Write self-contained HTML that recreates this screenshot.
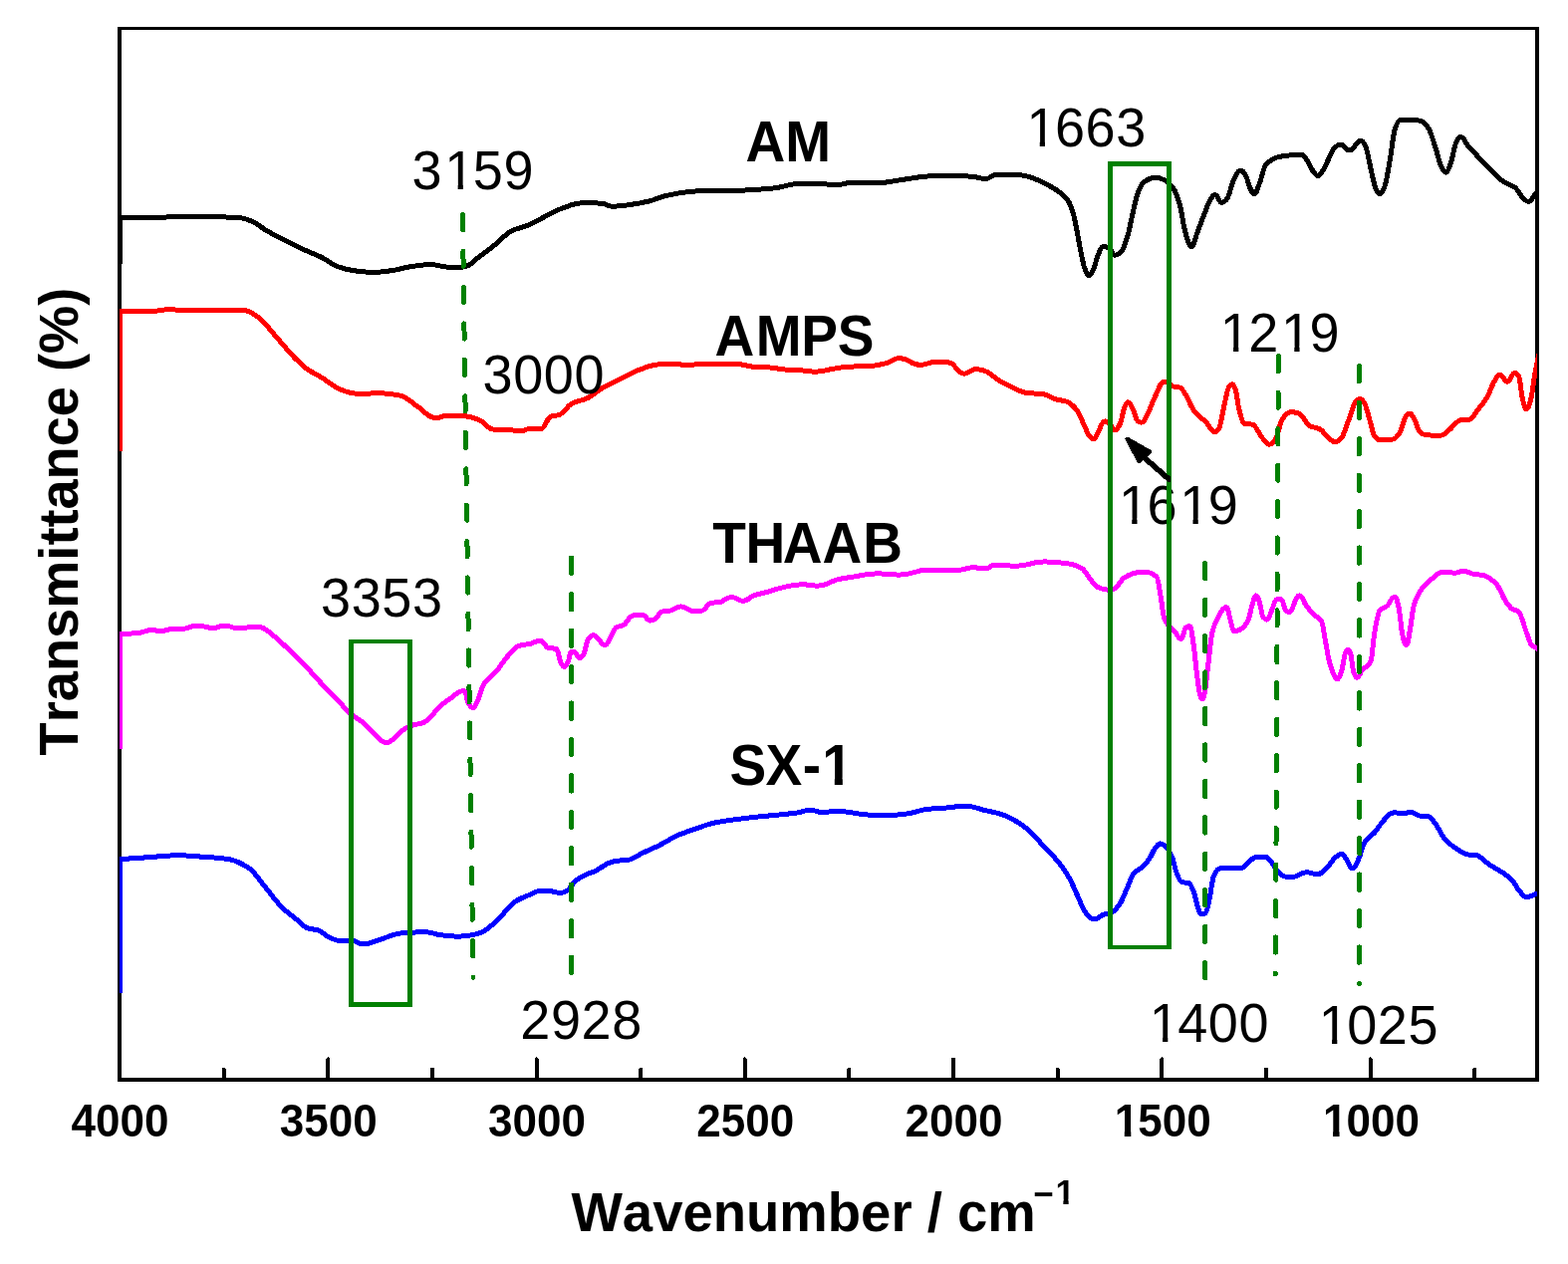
<!DOCTYPE html>
<html lang="en"><head><meta charset="utf-8"><title>FTIR spectra</title>
<style>
html,body{margin:0;padding:0;background:#fff;}
body{width:1574px;height:1269px;overflow:hidden;}
svg{display:block;}
text{font-family:"Liberation Sans",sans-serif;fill:#000;font-kerning:none;}
</style></head><body>
<svg width="1574" height="1269" viewBox="0 0 1574 1269" shape-rendering="crispEdges">
<defs><clipPath id="plot"><rect x="120" y="0" width="1423" height="1269"/></clipPath><clipPath id="k1"><path d="M0 0H1574V1269H0ZM449.43 184.74H459.64V191.70H449.43ZM464.92 184.74H474.71V191.70H464.92Z" clip-rule="evenodd"/></clipPath><clipPath id="k2"><path d="M0 0H1574V1269H0ZM1033.54 141.94H1043.75V148.90H1033.54ZM1049.02 141.94H1058.82V148.90H1049.02Z" clip-rule="evenodd"/></clipPath><clipPath id="k3"><path d="M0 0H1574V1269H0ZM1227.84 347.34H1238.05V354.30H1227.84ZM1243.32 347.34H1253.12V354.30H1243.32ZM1289.06 347.34H1299.28V354.30H1289.06ZM1304.55 347.34H1314.34V354.30H1304.55Z" clip-rule="evenodd"/></clipPath><clipPath id="k4"><path d="M0 0H1574V1269H0ZM1126.04 520.34H1136.25V527.30H1126.04ZM1141.52 520.34H1151.32V527.30H1141.52ZM1187.26 520.34H1197.48V527.30H1187.26ZM1202.75 520.34H1212.54V527.30H1202.75Z" clip-rule="evenodd"/></clipPath><clipPath id="k5"><path d="M0 0H1574V1269H0ZM1156.84 1040.94H1167.05V1047.90H1156.84ZM1172.32 1040.94H1182.12V1047.90H1172.32Z" clip-rule="evenodd"/></clipPath><clipPath id="k6"><path d="M0 0H1574V1269H0ZM1326.84 1042.94H1337.05V1049.90H1326.84ZM1342.32 1042.94H1352.12V1049.90H1342.32Z" clip-rule="evenodd"/></clipPath><clipPath id="k7"><path d="M0 0H1574V1269H0ZM827.66 780.81H837.79V789.50H827.66ZM845.83 780.81H855.26V789.50H845.83Z" clip-rule="evenodd"/></clipPath><clipPath id="k8"><path d="M0 0H1574V1269H0ZM1120.53 1135.28H1128.78V1142.70H1120.53ZM1135.32 1135.28H1143.01V1142.70H1135.32Z" clip-rule="evenodd"/></clipPath><clipPath id="k9"><path d="M0 0H1574V1269H0ZM1329.80 1135.28H1338.05V1142.70H1329.80ZM1344.58 1135.28H1352.27V1142.70H1344.58Z" clip-rule="evenodd"/></clipPath><clipPath id="k10"><path d="M0 0H1574V1269H0ZM1060.64 1203.66H1067.36V1210.10H1060.64ZM1072.66 1203.66H1078.93V1210.10H1072.66Z" clip-rule="evenodd"/></clipPath></defs>
<rect x="0" y="0" width="1574" height="1269" fill="#fff"/>
<path d="M120.0 27.0V1086.0M1543.0 27.0V1086.0" fill="none" stroke="#000" stroke-width="4"/>
<path d="M118.0 28.5H1545.0" fill="none" stroke="#000" stroke-width="3"/>
<path d="M118.0 1084.0H1545.0" fill="none" stroke="#000" stroke-width="4"/>
<line x1="224.63" y1="1073.60" x2="224.63" y2="1084.0" stroke="#000" stroke-width="4" stroke-linecap="round"/>
<line x1="329.26" y1="1063.40" x2="329.26" y2="1084.0" stroke="#000" stroke-width="4" stroke-linecap="round"/>
<line x1="433.90" y1="1073.60" x2="433.90" y2="1084.0" stroke="#000" stroke-width="4" stroke-linecap="round"/>
<line x1="538.53" y1="1063.40" x2="538.53" y2="1084.0" stroke="#000" stroke-width="4" stroke-linecap="round"/>
<line x1="643.16" y1="1073.60" x2="643.16" y2="1084.0" stroke="#000" stroke-width="4" stroke-linecap="round"/>
<line x1="747.79" y1="1063.40" x2="747.79" y2="1084.0" stroke="#000" stroke-width="4" stroke-linecap="round"/>
<line x1="852.43" y1="1073.60" x2="852.43" y2="1084.0" stroke="#000" stroke-width="4" stroke-linecap="round"/>
<line x1="957.06" y1="1063.40" x2="957.06" y2="1084.0" stroke="#000" stroke-width="4" stroke-linecap="round"/>
<line x1="1061.69" y1="1073.60" x2="1061.69" y2="1084.0" stroke="#000" stroke-width="4" stroke-linecap="round"/>
<line x1="1166.32" y1="1063.40" x2="1166.32" y2="1084.0" stroke="#000" stroke-width="4" stroke-linecap="round"/>
<line x1="1270.96" y1="1073.60" x2="1270.96" y2="1084.0" stroke="#000" stroke-width="4" stroke-linecap="round"/>
<line x1="1375.59" y1="1063.40" x2="1375.59" y2="1084.0" stroke="#000" stroke-width="4" stroke-linecap="round"/>
<line x1="1480.22" y1="1073.60" x2="1480.22" y2="1084.0" stroke="#000" stroke-width="4" stroke-linecap="round"/>
<path d="M120.5 265.0L120.5 218.2C135.65 218.20 135.65 218.20 150.80 218.20C176.25 218.20 176.25 217.40 201.70 217.40C222.00 217.40 228.77 217.84 242.30 218.90C245.70 219.17 249.10 220.64 252.50 222.00C257.57 224.03 262.63 228.69 267.70 231.60C279.57 238.42 291.43 244.32 303.30 249.90C310.07 253.08 316.83 255.39 323.60 258.80C328.70 261.37 333.80 265.92 338.90 267.70C343.97 269.47 349.03 270.82 354.10 271.50C360.90 272.41 364.30 273.30 374.50 273.30C383.35 273.30 386.30 272.50 392.20 271.80C399.00 271.00 405.80 268.60 412.60 267.70C419.37 266.81 422.75 265.70 432.90 265.70C441.80 265.70 441.80 268.20 450.70 268.20C457.05 268.20 457.05 268.20 463.40 268.20C472.30 268.20 475.27 261.58 481.20 257.60C486.73 253.89 492.27 249.34 497.80 244.90C502.87 240.84 507.93 234.65 513.00 232.10C518.93 229.11 524.87 228.22 530.80 225.80C541.83 221.31 552.87 212.86 563.90 209.30C571.50 206.85 575.30 203.70 586.70 203.70C595.60 203.70 598.57 203.87 604.50 204.20C607.90 204.39 609.60 207.20 614.70 207.20C623.60 207.20 626.57 206.25 632.50 205.50C639.27 204.65 646.03 203.35 652.80 201.70C657.87 200.47 662.93 197.70 668.00 196.60C678.17 194.39 688.33 192.27 698.50 192.00C710.37 191.69 722.23 191.76 734.10 191.50C748.50 191.18 762.90 190.29 777.30 188.90C784.93 188.17 792.57 184.73 800.20 184.60C807.80 184.47 811.60 184.40 823.00 184.40C830.65 184.40 830.65 185.90 838.30 185.90C847.20 185.90 847.20 183.10 856.10 183.10C866.95 183.10 866.95 183.90 877.80 183.90C890.50 183.90 894.73 181.92 903.20 180.80C910.83 179.79 918.47 178.17 926.10 177.50C932.87 176.90 936.25 176.20 946.40 176.20C961.65 176.20 966.73 176.63 976.90 177.30C981.13 177.58 983.25 179.50 989.60 179.50C994.70 179.50 994.70 175.50 999.80 175.50C1009.95 175.50 1009.95 175.50 1020.10 175.50C1026.45 175.50 1028.57 176.54 1032.80 177.50C1037.90 178.65 1043.00 181.41 1048.10 183.90C1053.17 186.37 1058.23 188.97 1063.30 192.80C1066.27 195.04 1069.23 197.30 1072.20 201.70C1073.90 204.22 1075.60 208.80 1077.30 214.40C1078.57 218.57 1079.83 225.78 1081.10 232.10C1082.37 238.42 1083.63 246.42 1084.90 252.50C1086.17 258.58 1087.43 265.92 1088.70 269.00C1090.23 272.72 1091.00 276.60 1093.30 276.60C1095.45 276.60 1096.17 273.09 1097.60 270.30C1099.30 266.99 1101.00 258.39 1102.70 255.00C1104.40 251.61 1105.25 247.40 1107.80 247.40C1110.95 247.40 1112.00 248.61 1114.10 249.90C1115.80 250.94 1116.65 256.30 1119.20 256.30C1122.40 256.30 1123.47 254.54 1125.60 252.50C1127.70 250.49 1129.80 243.88 1131.90 237.20C1133.60 231.79 1135.30 221.58 1137.00 214.40C1138.70 207.22 1140.40 198.29 1142.10 194.00C1144.20 188.70 1146.30 183.99 1148.40 182.60C1152.23 180.06 1154.15 178.30 1159.90 178.30C1164.35 178.30 1165.83 179.53 1168.80 180.80C1171.77 182.07 1174.73 184.87 1177.70 188.90C1179.80 191.75 1181.90 197.22 1184.00 204.20C1185.70 209.85 1187.40 223.07 1189.10 230.00C1190.40 235.30 1191.70 240.25 1193.00 243.50C1193.53 244.83 1194.07 246.33 1194.60 246.80C1195.07 247.21 1195.30 247.60 1196.00 247.60C1196.70 247.60 1196.93 247.09 1197.40 246.60C1198.60 245.33 1199.80 239.37 1201.00 236.00C1203.40 229.26 1205.80 222.87 1208.20 216.90C1210.73 210.59 1213.27 202.36 1215.80 199.10C1217.07 197.47 1217.70 195.50 1219.60 195.50C1223.05 195.50 1223.05 203.30 1226.50 203.30C1229.00 203.30 1229.83 201.71 1231.50 200.00C1233.90 197.54 1236.30 184.66 1238.70 180.30C1240.97 176.18 1242.10 171.00 1245.50 171.00C1247.85 171.00 1248.63 173.35 1250.20 175.60C1251.90 178.04 1253.60 186.59 1255.30 189.60C1256.57 191.85 1257.20 194.70 1259.10 194.70C1261.65 194.70 1262.50 188.53 1264.20 184.50C1266.33 179.44 1268.47 167.69 1270.60 165.50C1275.67 160.29 1280.73 157.90 1285.80 157.10C1292.57 156.03 1295.95 155.30 1306.10 155.30C1309.30 155.30 1310.37 158.97 1312.50 161.70C1314.63 164.43 1316.77 170.68 1318.90 173.10C1320.17 174.54 1320.80 176.40 1322.70 176.40C1325.85 176.40 1326.90 172.26 1329.00 169.30C1332.40 164.50 1335.80 151.92 1339.20 148.90C1341.30 147.03 1342.35 145.10 1345.50 145.10C1349.95 145.10 1349.95 151.00 1354.40 151.00C1360.15 151.00 1360.15 141.30 1365.90 141.30C1368.45 141.30 1369.30 144.39 1371.00 147.70C1372.67 150.95 1374.33 162.39 1376.00 169.30C1377.70 176.34 1379.40 186.27 1381.10 189.60C1382.37 192.08 1383.00 194.70 1384.90 194.70C1387.45 194.70 1388.30 191.00 1390.00 187.10C1391.70 183.20 1393.40 171.11 1395.10 161.70C1396.80 152.29 1398.50 134.74 1400.20 129.90C1401.90 125.06 1403.60 120.59 1405.30 120.50C1409.53 120.27 1411.65 120.20 1418.00 120.20C1423.05 120.20 1424.73 121.04 1428.10 122.30C1430.23 123.10 1432.37 126.33 1434.50 129.90C1436.60 133.42 1438.70 141.42 1440.80 147.70C1442.93 154.07 1445.07 164.42 1447.20 168.00C1448.63 170.40 1449.35 173.10 1451.50 173.10C1453.80 173.10 1454.57 168.01 1456.10 164.20C1458.20 158.98 1460.30 144.39 1462.40 141.30C1463.70 139.39 1464.35 137.50 1466.30 137.50C1469.45 137.50 1470.50 142.69 1472.60 145.10C1478.10 151.42 1483.60 157.30 1489.10 162.90C1495.90 169.83 1502.70 178.10 1509.50 182.50C1513.30 184.96 1517.10 185.48 1520.90 188.30C1523.87 190.51 1526.83 197.62 1529.80 199.80C1531.33 200.92 1532.10 202.30 1534.40 202.30C1537.80 202.30 1538.93 196.93 1541.20 194.70C1542.47 193.45 1543.73 192.43 1545.00 191.30" fill="none" stroke="#000000" stroke-width="5.0" stroke-linejoin="round" stroke-linecap="butt" clip-path="url(#plot)"/>
<path d="M120.5 452.6L120.5 312.4C135.65 312.40 135.65 312.40 150.80 312.40C155.40 312.40 156.93 312.06 160.00 311.80C163.73 311.48 165.60 310.40 171.20 310.40C175.60 310.40 175.60 311.40 180.00 311.40C190.85 311.40 190.85 311.40 201.70 311.40C222.00 311.40 222.00 311.20 242.30 311.20C249.95 311.20 252.50 314.40 257.60 317.30C264.37 321.14 271.13 331.44 277.90 338.90C283.83 345.44 289.77 353.28 295.70 359.20C299.93 363.42 304.17 367.58 308.40 370.60C313.47 374.21 318.53 376.39 323.60 379.50C329.53 383.14 335.47 388.91 341.40 391.00C347.33 393.09 350.30 395.30 359.20 395.30C370.65 395.30 370.65 394.80 382.10 394.80C392.25 394.80 395.63 395.88 402.40 397.30C408.33 398.55 414.27 405.10 420.20 408.80C426.13 412.50 429.10 419.50 438.00 419.50C443.10 419.50 443.10 417.50 448.20 417.50C458.35 417.50 461.73 417.68 468.50 418.00C473.57 418.24 478.63 420.62 483.70 422.90C487.53 424.63 489.45 431.00 495.20 431.00C501.60 431.00 501.60 431.00 508.00 431.00C514.95 431.00 514.95 433.00 521.90 433.00C527.00 433.00 527.00 430.50 532.10 430.50C537.20 430.50 537.20 431.00 542.30 431.00C547.35 431.00 549.03 419.46 552.40 418.30C555.37 417.28 558.33 417.44 561.30 416.50C565.53 415.15 569.77 407.22 574.00 405.10C579.10 402.55 584.20 402.20 589.30 399.90C594.37 397.61 599.43 392.61 604.50 389.70C610.43 386.29 616.37 383.77 622.30 380.80C628.23 377.83 634.17 373.91 640.10 371.90C648.57 369.04 652.80 365.60 665.50 365.60C678.20 365.60 678.20 366.10 690.90 366.10C704.90 366.10 704.90 365.30 718.90 365.30C729.70 365.30 733.30 365.37 740.50 365.50C745.67 365.60 750.83 367.76 756.00 368.20C763.33 368.83 770.67 368.66 778.00 369.40C780.00 369.60 782.00 370.66 784.00 370.80C789.53 371.19 795.07 371.11 800.60 371.40C806.67 371.72 809.70 373.20 818.80 373.20C826.90 373.20 829.60 371.34 835.00 370.50C840.07 369.72 845.13 368.61 850.20 368.30C858.37 367.80 866.53 367.93 874.70 367.40C879.80 367.07 884.90 365.81 890.00 364.50C894.23 363.41 896.35 359.60 902.70 359.60C913.10 359.60 913.10 366.30 923.50 366.30C932.40 366.30 932.40 363.00 941.30 363.00C947.65 363.00 949.77 363.54 954.00 364.30C958.67 365.13 961.00 375.20 968.00 375.20C973.70 375.20 973.70 370.60 979.40 370.60C993.40 370.60 998.07 380.45 1007.40 384.60C1015.87 388.36 1024.33 394.24 1032.80 394.80C1037.03 395.08 1041.27 395.01 1045.50 395.30C1050.60 395.65 1055.70 399.72 1060.80 401.10C1064.20 402.02 1067.60 402.13 1071.00 403.30C1074.37 404.46 1077.73 407.80 1081.10 412.00C1083.63 415.16 1086.17 422.84 1088.70 428.00C1090.40 431.46 1092.10 436.41 1093.80 438.10C1095.07 439.36 1095.70 440.70 1097.60 440.70C1100.15 440.70 1101.00 435.64 1102.70 433.00C1104.80 429.74 1105.85 422.90 1109.00 422.90C1111.55 422.90 1112.40 424.20 1114.10 425.40C1115.80 426.60 1116.65 431.80 1119.20 431.80C1121.75 431.80 1122.60 428.54 1124.30 425.40C1126.00 422.26 1127.70 410.64 1129.40 407.60C1130.40 405.81 1130.90 403.80 1132.40 403.80C1134.70 403.80 1135.47 407.48 1137.00 410.20C1138.70 413.22 1140.40 421.98 1142.10 422.90C1143.37 423.58 1144.00 424.10 1145.90 424.10C1148.45 424.10 1149.30 420.46 1151.00 417.80C1153.97 413.16 1156.93 402.82 1159.90 397.30C1162.87 391.78 1164.35 383.40 1168.80 383.40C1173.25 383.40 1174.73 387.23 1177.70 388.00C1180.13 388.63 1182.57 388.49 1185.00 389.30C1186.40 389.77 1187.80 392.54 1189.20 394.60C1192.60 399.59 1196.00 409.56 1199.40 413.70C1203.20 418.33 1207.00 420.17 1210.80 423.90C1213.77 426.81 1215.25 433.50 1219.70 433.50C1221.65 433.50 1222.30 431.99 1223.60 430.20C1225.27 427.91 1226.93 415.51 1228.60 408.60C1230.30 401.56 1232.00 390.43 1233.70 388.30C1234.80 386.92 1235.35 385.70 1237.00 385.70C1238.55 385.70 1239.07 388.24 1240.10 390.80C1241.37 393.93 1242.63 406.55 1243.90 411.20C1245.60 417.45 1247.30 424.59 1249.00 425.10C1251.97 426.00 1254.93 425.61 1257.90 426.40C1260.87 427.19 1263.83 435.77 1266.80 439.10C1269.33 441.94 1270.60 446.20 1274.40 446.20C1277.55 446.20 1278.60 443.35 1280.70 440.40C1282.83 437.40 1284.97 424.22 1287.10 421.30C1290.07 417.24 1291.55 413.70 1296.00 413.70C1299.80 413.70 1301.07 414.28 1303.60 415.00C1307.40 416.07 1311.20 425.81 1315.00 427.70C1318.40 429.39 1321.80 429.30 1325.20 431.00C1328.17 432.49 1331.13 438.38 1334.10 440.40C1336.23 441.85 1337.30 443.70 1340.50 443.70C1343.65 443.70 1344.70 441.43 1346.80 439.10C1349.33 436.28 1351.87 426.55 1354.40 420.10C1356.53 414.67 1358.67 405.76 1360.80 403.50C1362.23 401.98 1362.95 400.50 1365.10 400.50C1367.40 400.50 1368.17 402.60 1369.70 404.80C1371.40 407.24 1373.10 415.75 1374.80 421.30C1376.47 426.75 1378.13 435.73 1379.80 437.80C1381.50 439.92 1382.35 441.70 1384.90 441.70C1391.90 441.70 1394.23 441.47 1398.90 440.90C1401.03 440.64 1403.17 437.26 1405.30 434.00C1407.40 430.79 1409.50 419.83 1411.60 417.50C1412.70 416.28 1413.25 415.00 1414.90 415.00C1417.05 415.00 1417.77 417.94 1419.20 420.10C1421.33 423.31 1423.47 432.28 1425.60 434.00C1427.30 435.37 1429.00 436.43 1430.70 436.60C1435.77 437.10 1438.30 437.30 1445.90 437.30C1449.70 437.30 1450.97 434.55 1453.50 432.80C1457.77 429.85 1462.03 422.23 1466.30 421.80C1469.23 421.50 1472.17 421.62 1475.10 421.30C1477.67 421.02 1480.23 415.61 1482.80 412.40C1486.17 408.19 1489.53 404.21 1492.90 398.50C1495.47 394.14 1498.03 385.69 1500.60 381.90C1502.27 379.44 1503.10 376.10 1505.60 376.10C1509.45 376.10 1509.45 383.20 1513.30 383.20C1517.10 383.20 1517.10 374.30 1520.90 374.30C1522.80 374.30 1523.43 375.93 1524.70 378.10C1525.97 380.27 1527.23 396.49 1528.50 401.00C1529.77 405.51 1530.40 410.60 1532.30 410.60C1534.20 410.60 1534.83 407.02 1536.10 403.50C1537.80 398.78 1539.50 381.99 1541.20 373.00C1542.47 366.30 1543.73 360.88 1545.00 354.82" fill="none" stroke="#ff0000" stroke-width="5.0" stroke-linejoin="round" stroke-linecap="butt" clip-path="url(#plot)"/>
<path d="M120.5 752.0L120.5 636.3C126.37 636.13 132.23 636.10 138.10 635.80C143.20 635.54 145.75 632.50 153.40 632.50C157.20 632.50 157.20 633.80 161.00 633.80C167.35 633.80 167.35 631.30 173.70 631.30C178.80 631.30 178.80 631.30 183.90 631.30C190.85 631.30 190.85 628.00 197.80 628.00C206.10 628.00 206.10 630.50 214.40 630.50C220.10 630.50 220.10 628.00 225.80 628.00C231.50 628.00 231.50 630.40 237.20 630.40C249.10 630.40 249.10 629.50 261.00 629.50C262.75 629.50 263.33 630.25 264.50 630.80C268.97 632.89 273.43 637.24 277.90 641.00C282.97 645.27 288.03 650.49 293.10 655.40C298.20 660.35 303.30 665.26 308.40 670.60C312.63 675.03 316.87 680.14 321.10 684.60C326.17 689.94 331.23 694.62 336.30 699.90C341.40 705.21 346.50 712.07 351.60 716.40C355.83 720.00 360.07 721.88 364.30 725.40C368.10 728.56 371.90 733.00 375.70 736.80C377.83 738.93 379.97 741.99 382.10 743.20C384.20 744.39 385.25 745.70 388.40 745.70C391.60 745.70 392.67 743.48 394.80 741.90C397.33 740.03 399.87 736.16 402.40 734.30C405.80 731.80 409.20 729.68 412.60 728.50C416.83 727.03 421.07 727.07 425.30 725.40C427.83 724.40 430.37 721.56 432.90 719.10C435.43 716.64 437.97 712.58 440.50 710.20C444.73 706.22 448.97 703.21 453.20 700.50C457.43 697.79 459.55 693.50 465.90 693.50C467.85 693.50 468.50 702.88 469.80 705.00C471.47 707.72 472.30 710.50 474.80 710.50C477.35 710.50 478.20 705.79 479.90 702.40C481.77 698.67 483.63 690.16 485.50 687.20C489.60 680.70 493.70 679.23 497.80 674.50C502.03 669.62 506.27 662.45 510.50 657.90C513.90 654.25 517.30 649.63 520.70 648.50C524.93 647.09 529.17 647.04 533.40 646.00C536.37 645.27 537.85 643.20 542.30 643.20C546.10 643.20 547.37 649.65 549.90 650.30C552.87 651.06 555.83 650.65 558.80 651.60C560.07 652.00 561.33 661.87 562.60 664.30C563.87 666.73 564.50 669.40 566.40 669.40C568.30 669.40 568.93 666.57 570.20 664.30C571.47 662.03 572.10 654.10 574.00 654.10C575.90 654.10 576.53 654.71 577.80 655.40C579.10 656.10 579.75 660.50 581.70 660.50C583.60 660.50 584.23 659.29 585.50 657.90C587.17 656.07 588.83 643.43 590.50 641.40C592.20 639.33 593.05 637.60 595.60 637.60C598.15 637.60 599.00 639.96 600.70 641.40C602.83 643.21 603.90 647.80 607.10 647.80C609.60 647.80 610.43 643.87 612.10 641.40C614.23 638.24 616.37 631.25 618.50 630.00C621.03 628.52 623.57 628.64 626.10 627.40C629.50 625.73 631.20 617.80 636.30 617.80C640.75 617.80 640.75 617.80 645.20 617.80C649.00 617.80 649.00 623.10 652.80 623.10C655.35 623.10 656.20 622.07 657.90 621.10C660.00 619.91 662.10 614.73 664.20 614.20C667.17 613.45 670.13 613.59 673.10 613.00C676.50 612.32 678.20 608.90 683.30 608.90C689.65 608.90 689.65 613.50 696.00 613.50C700.45 613.50 701.93 613.31 704.90 613.00C707.87 612.69 710.83 605.73 713.80 605.30C716.77 604.87 719.73 604.99 722.70 604.60C726.50 604.11 728.40 599.50 734.10 599.50C739.85 599.50 739.85 603.30 745.60 603.30C751.30 603.30 753.20 598.94 757.00 597.70C760.40 596.59 763.80 596.11 767.20 595.20C772.27 593.84 777.33 591.71 782.40 590.60C790.03 588.93 793.85 586.80 805.30 586.80C812.90 586.80 812.90 588.10 820.50 588.10C830.70 588.10 834.10 583.15 840.90 581.70C845.97 580.62 851.03 579.96 856.10 579.20C864.17 577.99 868.20 575.90 880.30 575.90C891.75 575.90 891.75 577.10 903.20 577.10C917.20 577.10 917.20 572.30 931.20 572.30C946.45 572.30 946.45 572.30 961.70 572.30C969.30 572.30 969.30 569.80 976.90 569.80C983.25 569.80 983.25 571.00 989.60 571.00C994.05 571.00 994.05 567.00 998.50 567.00C1009.30 567.00 1009.30 568.20 1020.10 568.20C1034.10 568.20 1034.10 563.90 1048.10 563.90C1062.05 563.90 1066.70 564.92 1076.00 566.50C1079.40 567.08 1082.80 568.60 1086.20 570.80C1088.73 572.44 1091.27 577.32 1093.80 580.40C1096.33 583.48 1098.87 588.22 1101.40 589.30C1105.63 591.11 1107.75 592.40 1114.10 592.40C1116.65 592.40 1117.50 591.48 1119.20 590.60C1122.17 589.07 1125.13 582.48 1128.10 580.40C1131.07 578.32 1134.03 576.68 1137.00 575.90C1140.40 575.00 1142.10 574.10 1147.20 574.10C1154.15 574.10 1156.47 575.43 1161.10 579.20C1162.40 580.26 1163.70 591.19 1165.00 598.20C1166.27 605.03 1167.53 617.98 1168.80 621.10C1170.50 625.29 1172.20 626.63 1173.90 628.70C1176.00 631.25 1178.10 632.75 1180.20 635.10C1181.90 637.00 1182.75 641.40 1185.30 641.40C1187.85 641.40 1188.70 630.97 1190.40 630.00C1191.67 629.27 1192.30 628.70 1194.20 628.70C1196.10 628.70 1196.73 638.79 1198.00 646.50C1199.27 654.21 1200.53 669.92 1201.80 679.50C1202.63 685.80 1203.47 693.04 1204.30 696.50C1204.73 698.30 1205.17 700.06 1205.60 700.60C1206.03 701.14 1206.25 701.60 1206.90 701.60C1207.55 701.60 1207.77 700.95 1208.20 700.20C1208.67 699.40 1209.13 696.61 1209.60 694.00C1210.40 689.53 1211.20 680.95 1212.00 674.50C1213.70 660.80 1215.40 640.22 1217.10 633.80C1219.20 625.87 1221.30 621.95 1223.40 618.60C1225.93 614.56 1227.20 609.70 1231.00 609.70C1232.90 609.70 1233.53 617.37 1234.80 621.10C1236.27 625.42 1237.00 633.80 1239.20 633.80C1242.75 633.80 1243.93 632.61 1246.30 631.30C1248.40 630.14 1250.50 627.50 1252.60 623.60C1254.37 620.32 1256.13 608.94 1257.90 604.30C1258.90 601.67 1259.40 597.90 1260.90 597.90C1262.55 597.90 1263.10 601.45 1264.20 604.30C1265.47 607.58 1266.73 618.02 1268.00 619.50C1269.27 620.98 1269.90 622.10 1271.80 622.10C1274.35 622.10 1275.20 615.28 1276.90 611.90C1278.60 608.52 1279.45 601.80 1282.00 601.80C1283.90 601.80 1283.90 601.80 1285.80 601.80C1288.35 601.80 1289.20 612.23 1290.90 613.20C1292.17 613.93 1292.80 614.50 1294.70 614.50C1297.25 614.50 1298.10 607.19 1299.80 604.30C1301.23 601.86 1301.95 597.90 1304.10 597.90C1307.65 597.90 1308.83 605.06 1311.20 608.10C1313.77 611.39 1316.33 614.50 1318.90 617.00C1321.43 619.47 1323.97 619.43 1326.50 623.40C1327.77 625.38 1329.03 635.83 1330.30 642.40C1331.57 648.97 1332.83 657.97 1334.10 662.90C1335.80 669.52 1337.50 675.18 1339.20 678.10C1340.20 679.82 1340.70 681.90 1342.20 681.90C1344.50 681.90 1345.27 677.26 1346.80 673.00C1348.07 669.48 1349.33 657.46 1350.60 655.20C1351.47 653.65 1351.90 652.20 1353.20 652.20C1354.45 652.20 1354.87 654.34 1355.70 656.50C1356.80 659.35 1357.90 673.02 1359.00 675.60C1360.03 678.03 1360.55 680.20 1362.10 680.20C1364.60 680.20 1365.43 675.00 1367.10 673.00C1370.07 669.44 1373.03 669.95 1376.00 664.10C1377.27 661.60 1378.53 642.05 1379.80 635.00C1381.50 625.54 1383.20 615.25 1384.90 613.20C1387.47 610.10 1390.03 610.27 1392.60 608.10C1395.13 605.96 1396.40 599.20 1400.20 599.20C1402.10 599.20 1402.73 604.42 1404.00 609.40C1405.27 614.38 1406.53 632.32 1407.80 637.30C1409.07 642.28 1409.70 647.50 1411.60 647.50C1413.50 647.50 1414.13 638.52 1415.40 632.30C1416.67 626.08 1417.93 612.40 1419.20 608.10C1421.77 599.38 1424.33 595.18 1426.90 591.60C1430.27 586.90 1433.63 583.99 1437.00 581.40C1440.83 578.45 1442.75 574.30 1448.50 574.30C1454.85 574.30 1454.85 575.10 1461.20 575.10C1465.00 575.10 1465.00 573.30 1468.80 573.30C1473.90 573.30 1475.60 575.69 1479.00 576.30C1482.37 576.90 1485.73 576.89 1489.10 577.60C1493.33 578.49 1497.57 581.84 1501.80 586.00C1505.20 589.34 1508.60 599.43 1512.00 604.30C1513.70 606.74 1515.40 609.33 1517.10 610.60C1519.63 612.49 1522.17 612.32 1524.70 614.50C1527.23 616.68 1529.77 628.29 1532.30 634.80C1534.00 639.17 1535.70 645.78 1537.40 647.50C1538.67 648.78 1539.93 649.26 1541.20 650.00C1542.47 650.74 1543.73 651.33 1545.00 652.00" fill="none" stroke="#ff00ff" stroke-width="5.0" stroke-linejoin="round" stroke-linecap="butt" clip-path="url(#plot)"/>
<path d="M120.5 997.3L120.5 862.6C130.60 861.93 140.70 861.26 150.80 860.60C160.13 859.99 164.80 858.80 178.80 858.80C190.25 858.80 194.07 859.57 201.70 860.10C211.00 860.74 220.30 861.17 229.60 862.60C236.37 863.64 243.13 867.10 249.90 871.50C255.00 874.82 260.10 883.24 265.20 889.30C271.13 896.34 277.07 905.06 283.00 910.90C288.07 915.89 293.13 919.45 298.20 923.60C301.60 926.38 305.00 930.73 308.40 931.80C311.80 932.87 315.20 932.81 318.60 933.80C322.83 935.03 327.07 939.70 331.30 941.40C334.67 942.75 336.35 944.50 341.40 944.50C347.75 944.50 347.75 944.50 354.10 944.50C359.20 944.50 359.20 947.80 364.30 947.80C371.90 947.80 374.43 945.39 379.50 944.00C387.13 941.90 394.77 937.49 402.40 936.90C410.87 936.25 415.10 935.80 427.80 935.80C434.15 935.80 436.27 937.86 440.50 938.40C447.30 939.27 450.70 940.20 460.90 940.20C471.05 940.20 474.43 938.74 481.20 936.90C484.20 936.08 487.20 933.90 490.20 931.80C494.43 928.84 498.67 923.91 502.90 919.80C507.97 914.88 513.03 907.78 518.10 904.60C522.33 901.94 526.57 900.36 530.80 898.70C535.03 897.04 537.15 894.40 543.50 894.40C548.60 894.40 550.30 894.64 553.70 894.90C556.67 895.13 558.15 896.40 562.60 896.40C565.75 896.40 566.80 895.41 568.90 894.40C571.87 892.97 574.83 886.58 577.80 884.20C580.77 881.82 583.73 880.15 586.70 878.70C590.53 876.82 594.37 875.93 598.20 874.10C602.43 872.08 606.67 868.05 610.90 866.50C613.43 865.57 615.97 864.77 618.50 864.40C622.73 863.78 626.97 863.86 631.20 863.20C635.87 862.47 640.53 858.51 645.20 856.30C650.27 853.90 655.33 851.88 660.40 849.40C667.20 846.08 674.00 841.44 680.80 838.50C685.87 836.31 690.93 834.66 696.00 832.90C702.77 830.56 709.53 827.79 716.30 826.30C722.23 824.99 728.17 824.15 734.10 823.30C742.57 822.09 751.03 821.12 759.50 820.20C767.97 819.28 776.43 818.61 784.90 817.70C790.83 817.06 796.77 816.58 802.70 815.60C806.10 815.04 807.80 813.10 812.90 813.10C819.25 813.10 819.25 815.60 825.60 815.60C831.95 815.60 831.95 814.40 838.30 814.40C843.40 814.40 845.10 814.65 848.50 814.90C852.73 815.21 856.97 816.43 861.20 816.90C869.27 817.80 873.30 818.90 885.40 818.90C898.10 818.90 902.33 817.91 910.80 816.90C917.60 816.09 924.40 813.00 931.20 812.30C937.10 811.69 943.00 811.55 948.90 811.10C955.70 810.58 959.10 809.30 969.30 809.30C978.20 809.30 981.17 811.73 987.10 813.10C993.87 814.66 1000.63 815.85 1007.40 818.20C1014.17 820.55 1020.93 824.74 1027.70 829.60C1034.50 834.48 1041.30 842.80 1048.10 849.90C1053.17 855.19 1058.23 860.05 1063.30 866.50C1066.70 870.83 1070.10 875.64 1073.50 881.70C1076.03 886.22 1078.57 892.70 1081.10 898.20C1083.63 903.70 1086.17 910.74 1088.70 914.70C1090.40 917.36 1092.10 920.16 1093.80 921.10C1095.50 922.04 1096.35 922.90 1098.90 922.90C1102.70 922.90 1103.97 919.62 1106.50 918.60C1109.90 917.24 1113.30 917.17 1116.70 915.50C1119.23 914.26 1121.77 910.81 1124.30 907.10C1126.83 903.39 1129.37 896.12 1131.90 890.60C1134.03 885.95 1136.17 878.95 1138.30 876.60C1141.27 873.34 1144.23 873.00 1147.20 870.30C1149.30 868.39 1151.40 865.64 1153.50 862.60C1155.63 859.51 1157.77 853.61 1159.90 851.20C1161.60 849.28 1162.45 846.90 1165.00 846.90C1167.50 846.90 1168.33 848.48 1170.00 849.90C1172.13 851.72 1174.27 855.27 1176.40 860.00C1177.93 863.40 1179.47 872.22 1181.00 876.00C1182.67 880.11 1184.33 885.02 1186.00 885.50C1188.50 886.22 1191.00 885.88 1193.50 886.60C1195.17 887.08 1196.83 891.77 1198.50 896.00C1199.83 899.38 1201.17 907.72 1202.50 911.00C1203.77 914.12 1204.40 918.00 1206.30 918.00C1208.25 918.00 1208.90 917.41 1210.20 916.50C1211.47 915.62 1212.73 908.38 1214.00 903.00C1215.47 896.77 1216.93 882.72 1218.40 879.50C1220.27 875.40 1222.13 872.50 1224.00 872.00C1226.33 871.38 1227.50 871.00 1231.00 871.00C1238.25 871.00 1238.25 871.60 1245.50 871.60C1249.10 871.60 1250.30 867.94 1252.70 866.30C1255.70 864.25 1257.20 860.60 1261.70 860.60C1266.15 860.60 1266.15 860.60 1270.60 860.60C1273.15 860.60 1274.00 863.17 1275.70 864.90C1278.23 867.48 1280.77 872.83 1283.30 875.10C1285.83 877.37 1287.10 880.20 1290.90 880.20C1294.70 880.20 1294.70 880.20 1298.50 880.20C1304.85 880.20 1304.85 875.80 1311.20 875.80C1316.95 875.80 1316.95 877.60 1322.70 877.60C1327.15 877.60 1328.63 873.88 1331.60 871.30C1334.97 868.38 1338.33 862.01 1341.70 859.80C1343.40 858.68 1344.25 857.30 1346.80 857.30C1349.35 857.30 1350.20 861.32 1351.90 863.60C1353.77 866.10 1354.70 871.80 1357.50 871.80C1360.40 871.80 1361.37 867.21 1363.30 863.60C1365.43 859.62 1367.57 849.05 1369.70 845.80C1373.07 840.67 1376.43 839.50 1379.80 835.70C1383.20 831.86 1386.60 825.69 1390.00 822.50C1392.97 819.72 1394.45 815.90 1398.90 815.90C1404.60 815.90 1404.60 816.60 1410.30 816.60C1412.85 816.60 1412.85 815.30 1415.40 815.30C1420.50 815.30 1422.20 818.76 1425.60 819.20C1428.57 819.58 1431.53 819.44 1434.50 819.90C1436.60 820.22 1438.70 824.10 1440.80 826.80C1444.20 831.17 1447.60 839.59 1451.00 843.30C1453.53 846.06 1456.07 847.99 1458.60 849.70C1463.70 853.15 1468.80 857.45 1473.90 858.00C1476.43 858.27 1478.97 858.22 1481.50 858.50C1485.73 858.98 1489.97 864.62 1494.20 867.40C1499.30 870.75 1504.40 873.26 1509.50 876.80C1512.03 878.56 1514.57 880.17 1517.10 882.70C1520.07 885.66 1523.03 892.38 1526.00 895.40C1528.10 897.54 1529.15 900.50 1532.30 900.50C1536.75 900.50 1538.23 898.66 1541.20 897.90C1542.47 897.58 1543.73 897.31 1545.00 897.01" fill="none" stroke="#0000ff" stroke-width="5.0" stroke-linejoin="round" stroke-linecap="butt" clip-path="url(#plot)"/>
<g clip-path="url(#k1)"><text transform="translate(0,190.20) scale(1,1.0300)" x="413.59 446.31 474.81 505.43" y="0" font-size="54px">3159</text></g>
<g clip-path="url(#k2)"><text transform="translate(0,147.40) scale(1,1.0300)" x="1030.42 1058.92 1089.54 1120.15" y="0" font-size="54px">1663</text></g>
<text transform="translate(0,395.40) scale(1,1.0300)" x="484.59 515.20 545.81 576.43" y="0" font-size="54px">3000</text>
<g clip-path="url(#k3)"><text transform="translate(0,352.80) scale(1,1.0300)" x="1224.72 1253.22 1285.95 1314.45" y="0" font-size="54px">1219</text></g>
<g clip-path="url(#k4)"><text transform="translate(0,525.80) scale(1,1.0300)" x="1122.92 1151.42 1184.15 1212.65" y="0" font-size="54px">1619</text></g>
<text transform="translate(0,618.50) scale(1,1.0300)" x="322.09 352.70 383.31 413.93" y="0" font-size="54px">3353</text>
<text transform="translate(0,1042.60) scale(1,1.0300)" x="522.36 552.97 583.59 614.20" y="0" font-size="54px">2928</text>
<g clip-path="url(#k5)"><text transform="translate(0,1046.40) scale(1,1.0300)" x="1153.72 1182.22 1212.84 1243.45" y="0" font-size="54px">1400</text></g>
<g clip-path="url(#k6)"><text transform="translate(0,1048.40) scale(1,1.0300)" x="1323.72 1352.22 1382.84 1413.45" y="0" font-size="54px">1025</text></g>
<text transform="translate(0,162.00) scale(1,1.0500)" x="748.53 788.25" y="0" font-size="55px" font-weight="bold">AM</text>
<text transform="translate(0,356.80) scale(1,1.0500)" x="717.53 758.65 804.27 840.75" y="0" font-size="55px" font-weight="bold">AMPS</text>
<text transform="translate(0,565.00) scale(1,1.0500)" x="715.18 748.38 785.70 825.42 866.14" y="0" font-size="55px" font-weight="bold">THAAB</text>
<g clip-path="url(#k7)"><text transform="translate(0,788.00) scale(1,1.0500)" x="732.42 768.50 805.78 825.20" y="0" font-size="55px" font-weight="bold">SX-1</text></g>
<text transform="translate(0,1141.20) scale(1,1.0300)" x="71.56 96.03 120.50 144.97" y="0" font-size="44px" font-weight="bold">4000</text>
<text transform="translate(0,1141.20) scale(1,1.0300)" x="280.82 305.29 329.76 354.24" y="0" font-size="44px" font-weight="bold">3500</text>
<text transform="translate(0,1141.20) scale(1,1.0300)" x="490.09 514.56 539.03 563.50" y="0" font-size="44px" font-weight="bold">3000</text>
<text transform="translate(0,1141.20) scale(1,1.0300)" x="699.35 723.82 748.29 772.76" y="0" font-size="44px" font-weight="bold">2500</text>
<text transform="translate(0,1141.20) scale(1,1.0300)" x="908.62 933.09 957.56 982.03" y="0" font-size="44px" font-weight="bold">2000</text>
<g clip-path="url(#k8)"><text transform="translate(0,1141.20) scale(1,1.0300)" x="1118.76 1142.35 1166.82 1191.29" y="0" font-size="44px" font-weight="bold">1500</text></g>
<g clip-path="url(#k9)"><text transform="translate(0,1141.20) scale(1,1.0300)" x="1328.03 1351.62 1376.09 1400.56" y="0" font-size="44px" font-weight="bold">1000</text></g>
<g clip-path="url(#k10)"><text transform="translate(0,1235.60) scale(1,1.0200)" x="573.40 624.84 655.15 685.46 715.77 749.06 782.35 830.81 864.10 894.41 915.62 930.76 945.91 961.05 991.36" y="0" font-size="54.5px" font-weight="bold">Wavenumber / cm<tspan x="1037.50 1059.44" y="-24.02 -26.47" font-size="35px">−1</tspan></text></g>
<text transform="translate(78.0,758.4) rotate(-90) scale(1,1.04)" font-size="54.2px" font-weight="bold">Transmittance (%)</text>
<line x1="464.40" y1="215.50" x2="475.00" y2="981.35" stroke="#008000" stroke-width="5.0" stroke-dasharray="15.30 21.15" stroke-linecap="round"/>
<line x1="573.50" y1="560.10" x2="573.50" y2="976.35" stroke="#008000" stroke-width="5.0" stroke-dasharray="15.30 21.15" stroke-linecap="round"/>
<line x1="1209.70" y1="565.60" x2="1209.70" y2="981.85" stroke="#008000" stroke-width="5.0" stroke-dasharray="15.30 21.15" stroke-linecap="round"/>
<line x1="1283.30" y1="357.70" x2="1280.40" y2="977.75" stroke="#008000" stroke-width="5.0" stroke-dasharray="15.30 21.15" stroke-linecap="round"/>
<line x1="1364.40" y1="367.70" x2="1364.60" y2="987.75" stroke="#008000" stroke-width="5.0" stroke-dasharray="15.30 21.15" stroke-linecap="round"/>
<path d="M352.50 641.85V1010.55M411.50 641.85V1010.55" fill="none" stroke="#008000" stroke-width="5.0"/>
<path d="M352.50 644.10H411.50M352.50 1008.30H411.50" fill="none" stroke="#008000" stroke-width="4.5"/>
<path d="M1114.50 162.25V953.25M1173.50 162.25V953.25" fill="none" stroke="#008000" stroke-width="5.0"/>
<path d="M1114.50 164.50H1173.50M1114.50 951.00H1173.50" fill="none" stroke="#008000" stroke-width="4.5"/>
<polygon points="1148.9,455.9 1174.8,478.6 1174.8,483.5 1171.8,483.5 1145.1,460.1" fill="#000"/>
<polygon points="1131.6,440.8 1154.0,453.7 1143.6,463.0" fill="#000" stroke="#000" stroke-width="4.4" stroke-linejoin="round"/>
</svg></body></html>
